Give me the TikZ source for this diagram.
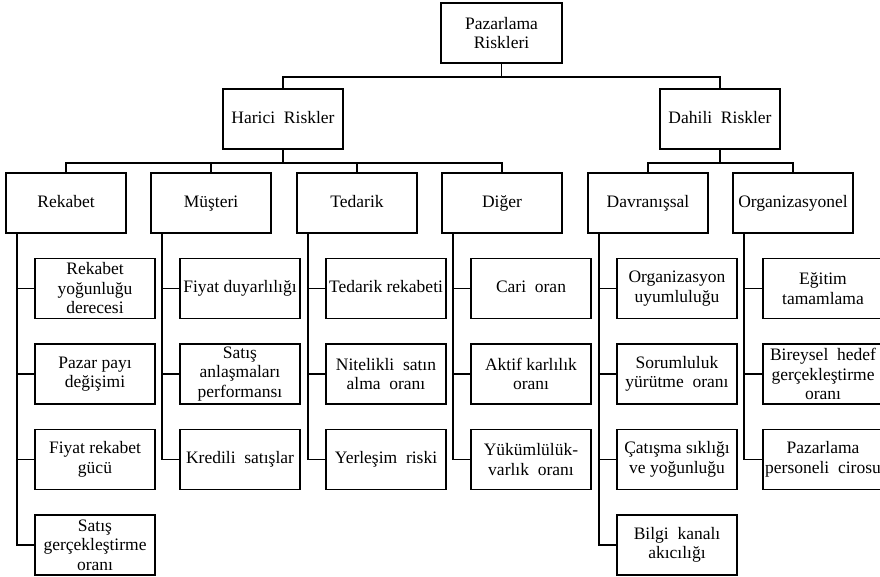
\documentclass[tikz,border=0pt]{standalone}
\usepackage{fontspec}
\setmainfont{Liberation Serif}
\begin{document}
\begin{tikzpicture}[x=1pt,y=-1pt,
  box/.style={draw,line width=1.8pt,rectangle,minimum width=120pt,minimum height=60pt,
    inner sep=1pt,align=center,font=\fontsize{17.5}{19.5}\selectfont},
  one/.style={box,text height=12.5pt,text depth=4pt},
  conn/.style={line width=1.8pt}]
\useasboundingbox (0,0) rectangle (880,577);
\clip (0,0) rectangle (880,577);
\fill[white] (0,0) rectangle (880,577);
% top
\node[box,minimum width=121pt] (top) at (501.5,33) {Pazarlama\\Riskleri};
\node[one] (har) at (283,119) {Harici\ \ Riskler};
\node[one] (dah) at (720,119) {Dahili\ \ Riskler};
% level 2
\node[one] (rek) at (66,203) {Rekabet};
\node[one] (mus) at (211,203) {Müşteri};
\node[one] (ted) at (357,203) {Tedarik};
\node[one] (dig) at (502,203) {Diğer};
\node[one] (dav) at (648,203) {Davranışsal};
\node[one] (org) at (793,203) {Organizasyonel};
% children Rekabet
\node[box] (r1) at (95,288.5) {Rekabet\\yoğunluğu\\derecesi};
\node[box] (r2) at (95,374) {Pazar payı\\değişimi};
\node[box] (r3) at (95,459.5) {Fiyat rekabet\\gücü};
\node[box] (r4) at (95,545) {Satış\\gerçekleştirme\\oranı};
% Müşteri
\node[one] (m1) at (240,288.5) {Fiyat duyarlılığı};
\node[box] (m2) at (240,374) {Satış\\anlaşmaları\\performansı};
\node[one] (m3) at (240,459.5) {Kredili\ \ satışlar};
% Tedarik
\node[one] (t1) at (386,288.5) {Tedarik rekabeti};
\node[box] (t2) at (386,374) {Nitelikli\ \ satın\\alma\ \ oranı};
\node[one] (t3) at (386,459.5) {Yerleşim\ \ riski};
% Diğer
\node[one] (d1) at (531,288.5) {Cari\ \ oran};
\node[box] (d2) at (531,374) {Aktif karlılık\\oranı};
\node[box] (d3) at (531,459.5) {Yükümlülük-\\varlık\ \ oranı};
% Davranışsal
\node[box] (v1) at (677,288.5) {Organizasyon\\uyumluluğu};
\node[box] (v2) at (677,374) {Sorumluluk\\yürütme\ \ oranı};
\node[box] (v3) at (677,459.5) {Çatışma sıklığı\\ve yoğunluğu};
\node[box] (v4) at (677,545) {Bilgi\ \ kanalı\\akıcılığı};
% Organizasyonel
\node[box] (o1) at (823,288.5) {Eğitim\\tamamlama};
\node[box] (o2) at (823,374) {Bireysel\ \ hedef\\gerçekleştirme\\oranı};
\node[box] (o3) at (823,459.5) {Pazarlama\\personeli\ \ cirosu};
% connectors top
\draw[conn] (top.south) -- ++(0,13) -| (har.north);
\draw[conn] (top.south) -- ++(0,13) -| (dah.north);
\foreach \c in {rek,mus,ted,dig} \draw[conn] (har.south) -- ++(0,13) -| (\c.north);
\foreach \c in {dav,org} \draw[conn] (dah.south) -- ++(0,13) -| (\c.north);
% trunks
\foreach \p in {rek,mus,ted,dig,dav,org}
  \coordinate (\p-t) at ([xshift=-49pt]\p.south);
\foreach \c in {r1,r2,r3,r4} \draw[conn] (rek-t) |- (\c.west);
\foreach \c in {m1,m2,m3} \draw[conn] (mus-t) |- (\c.west);
\foreach \c in {t1,t2,t3} \draw[conn] (ted-t) |- (\c.west);
\foreach \c in {d1,d2,d3} \draw[conn] (dig-t) |- (\c.west);
\foreach \c in {v1,v2,v3,v4} \draw[conn] (dav-t) |- (\c.west);
\foreach \c in {o1,o2,o3} \draw[conn] (org-t) |- (\c.west);
\end{tikzpicture}
\end{document}
